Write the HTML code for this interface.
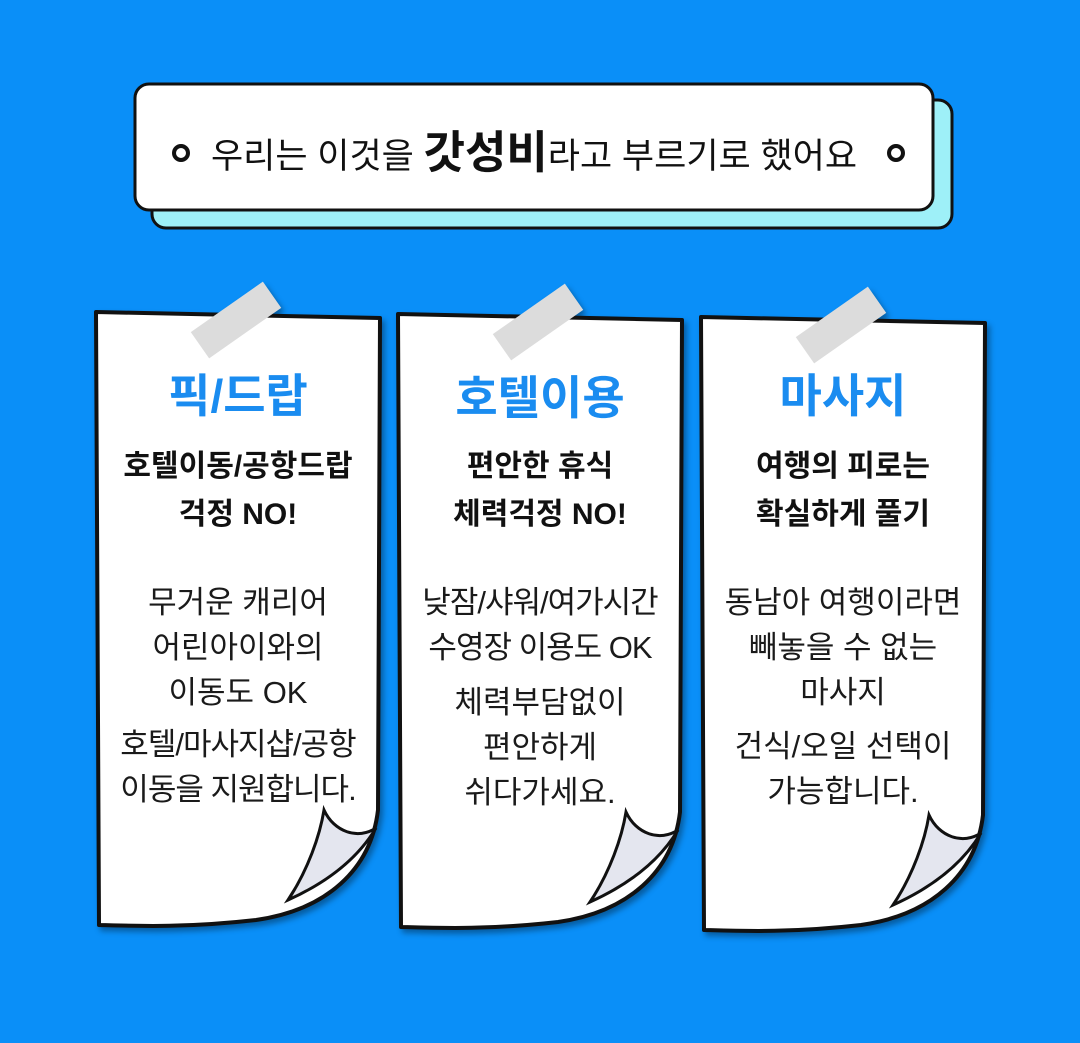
<!DOCTYPE html>
<html><head><meta charset="utf-8"><style>
body{margin:0;width:1080px;height:1043px;background:#0a8ff8;overflow:hidden;position:relative;font-family:"Liberation Sans","Noto Sans CJK KR",sans-serif}
.t{position:absolute;text-align:center;white-space:nowrap}
.h{font-weight:bold;color:#1a8cf0;font-size:46px;line-height:56px}
.s{font-weight:bold;color:#111;font-size:30px;line-height:48px}
.b{color:#1a1a1a;font-size:31px;line-height:45px;font-weight:normal}
</style></head><body>
<svg width="1080" height="1043" style="position:absolute;left:0;top:0">
<defs>
<g id="card">
<path d="M0,2 L284,8 L282,500 C275,560 230,600 160,610 C90,618 40,616 3,615 Z" fill="#fff" stroke="#111" stroke-width="4" stroke-linejoin="round"/>
<path d="M228,500 C224,525 212,560 192,590 C232,572 262,548 280,518 C262,530 238,522 228,500 Z" fill="#e4e6ef" stroke="#111" stroke-width="3"/>
<rect x="-44" y="-16" width="88" height="32" fill="#dcdcdc" transform="translate(140,10) rotate(-35)"/>
</g>
</defs>
<rect x="152" y="100" width="800" height="128" rx="14" fill="#9ef0f8" stroke="#111" stroke-width="3"/>
<rect x="135" y="84" width="798" height="126" rx="14" fill="#fff" stroke="#111" stroke-width="3"/>
<circle cx="181" cy="153" r="7" fill="none" stroke="#111" stroke-width="4"/>
<circle cx="896" cy="153" r="7" fill="none" stroke="#111" stroke-width="4"/>
<g filter="drop-shadow(3px 4px 3px rgba(0,0,0,.35))">
<use href="#card" transform="translate(96,310)"/>
<use href="#card" transform="translate(398,312)"/>
<use href="#card" transform="translate(701,315)"/>
</g>
</svg>
<div class="t" style="left:135px;width:798px;top:126px;font-size:35px;color:#111;line-height:54px">우리는 이것을 <b style="font-size:45px">갓성비</b>라고 부르기로 했어요</div>

<div class="t h" style="left:96px;width:284px;top:368px">픽/드랍</div>
<div class="t s" style="left:96px;width:284px;top:443px">호텔이동/공항드랍<br>걱정 NO!</div>
<div class="t b" style="left:96px;width:284px;top:580px">무거운 캐리어<br>어린아이와의<br>이동도 OK</div>
<div class="t b" style="left:96px;width:284px;top:722px;letter-spacing:-1px">호텔/마사지샵/공항<br>이동을 지원합니다.</div>

<div class="t h" style="left:398px;width:284px;top:370px">호텔이용</div>
<div class="t s" style="left:398px;width:284px;top:443px">편안한 휴식<br>체력걱정 NO!</div>
<div class="t b" style="left:398px;width:284px;top:580px;letter-spacing:-1px">낮잠/샤워/여가시간<br>수영장 이용도 OK</div>
<div class="t b" style="left:398px;width:284px;top:680px">체력부담없이<br>편안하게<br>쉬다가세요.</div>

<div class="t h" style="left:701px;width:284px;top:368px">마사지</div>
<div class="t s" style="left:701px;width:284px;top:443px">여행의 피로는<br>확실하게 풀기</div>
<div class="t b" style="left:701px;width:284px;top:580px">동남아 여행이라면<br>빼놓을 수 없는<br>마사지</div>
<div class="t b" style="left:701px;width:284px;top:724px">건식/오일 선택이<br>가능합니다.</div>
</body></html>
